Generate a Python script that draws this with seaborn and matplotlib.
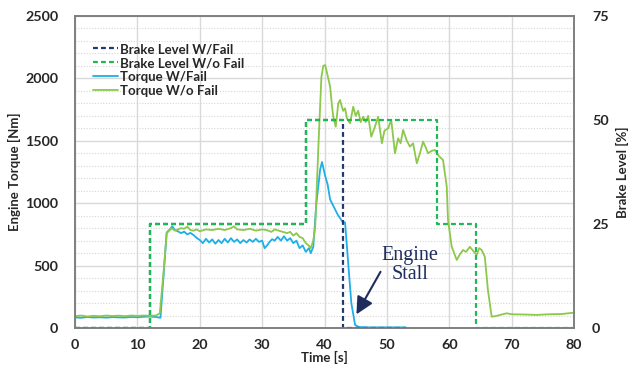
import matplotlib
matplotlib.use("Agg")
import matplotlib.pyplot as plt
import seaborn as sns
import numpy as np
from matplotlib.ticker import MultipleLocator

# ---------------- data ----------------
brake_t = [0, 12, 37, 43, 53]
brake_fail = [0, 25, 50, 0, 0]
brake_t_nofail = [0, 12, 37, 58, 64.3, 80]
brake_nofail = [0, 25, 50, 25, 0, 0]

torque_fail_t = [0, 1, 2, 3, 4, 5, 6, 7, 8, 9, 10, 11, 12, 13, 13.7,
                 14.2, 14.7, 15.2, 15.6, 16, 16.5, 17, 17.5, 18, 18.5, 19, 19.5,
                 20, 20.5, 21, 21.5, 22, 22.5, 23, 23.5, 24, 24.5, 25, 25.5,
                 26, 26.5, 27, 27.5, 28, 28.5, 29, 29.5, 30, 30.4, 30.8, 31.2,
                 31.6, 32, 32.5, 33, 33.5, 34, 34.5, 35, 35.5, 36, 36.5, 37,
                 37.5, 37.8, 38.2, 38.7, 39.3, 39.6, 40.1, 40.5, 40.9, 41.3,
                 41.7, 42.1, 42.5, 42.9, 43.3, 43.8, 44.3, 44.9, 45.5, 47, 50, 53]
torque_fail = [85, 82, 88, 84, 86, 83, 87, 85, 84, 88, 86, 90, 92, 88, 82,
               420, 765, 790, 815, 785, 775, 760, 772, 750, 762, 745, 722,
               705, 680, 715, 685, 710, 675, 705, 680, 715, 685, 720, 690,
               710, 680, 705, 685, 710, 690, 715, 690, 700, 640, 662, 690,
               712, 700, 730, 700, 735, 700, 720, 680, 700, 640, 662, 610,
               640, 600, 650, 1000, 1270, 1330, 1220, 1150, 1030, 990,
               950, 910, 880, 850, 845, 520, 200, 25, 8, 5, 5, 5]

torque_nofail_t = [0, 1, 2, 3, 4, 5, 6, 7, 8, 9, 10, 11, 12, 13, 13.6,
                   14.2, 14.7, 15.5, 16, 16.5, 17, 17.5, 18, 18.5, 19, 19.5,
                   20, 21, 22, 23, 24, 25, 25.5, 26, 27, 28, 29, 30, 30.7,
                   31.5, 32, 33, 34, 34.5, 35, 35.5, 36, 36.5, 37, 37.5, 37.8,
                   38.2, 38.5, 39.0, 39.5, 39.8, 40.1, 40.3, 40.6, 40.9, 41.2,
                   41.4, 41.8, 42.0, 42.2, 42.5, 42.7, 43.0, 43.3, 43.6, 44.1,
                   44.6, 45.0, 45.4, 45.8, 46.2, 46.6, 47.0, 47.5, 48.0, 48.6,
                   49.2, 49.6, 50.2, 50.7, 51.3, 51.8, 52.2, 52.6, 53.2, 53.7,
                   54.2, 54.8, 55.3, 55.8, 56.2, 56.6, 57.2, 57.7, 58.3, 59.0,
                   59.6, 59.8, 60.4, 61.2, 61.7, 62.2, 62.7, 63.3, 63.8, 64.4,
                   64.8, 65.2, 65.7, 66.2, 66.8, 67.4, 68.1, 69.2, 70, 72, 74,
                   76, 78, 79.5, 80]
torque_nofail = [95, 100, 92, 98, 94, 100, 96, 99, 95, 100, 97, 100, 98, 100, 118,
                 450, 760, 800, 780, 790, 800, 795, 812, 785, 780, 790,
                 775, 790, 785, 795, 785, 800, 815, 790, 785, 795, 780, 790, 785,
                 770, 790, 775, 760, 770, 740, 760, 730, 720, 680, 660, 640,
                 700, 800, 1430, 2010, 2100, 2107, 2067, 2000, 1934, 1780,
                 1693, 1613, 1700, 1800, 1827, 1787, 1740, 1760, 1680, 1640,
                 1773, 1700, 1740, 1650, 1693, 1650, 1700, 1533, 1600, 1693,
                 1480, 1580, 1600, 1667, 1400, 1520, 1480, 1587, 1500, 1453,
                 1480, 1320, 1400, 1493, 1450, 1400, 1420, 1426, 1380, 1346,
                 1132, 865, 651, 545, 590, 625, 610, 651, 620, 585,
                 640, 625, 571, 304, 91, 95, 104, 118, 110, 108, 105,
                 110, 112, 120, 123]

x_ticks = [0, 10, 20, 30, 40, 50, 60, 70, 80]
y_ticks = [0, 500, 1000, 1500, 2000, 2500]
y2_ticks = [0, 25, 50, 75]

# ---------------- style ----------------
sns.set_style("white")
plt.rcParams["font.family"] = ["Lato", "DejaVu Sans"]

navy = "#1F3A6E"
green_dash = "#1DB954"
blue = "#1EAEE8"
green = "#8CC84B"
grid_c = "#D9D9D9"
spine_c = "#7F7F7F"

fig = plt.figure(figsize=(6.33, 3.69), dpi=100)
ax = fig.add_axes([75 / 633, 41 / 369, 499 / 633, 312 / 369])
ax2 = ax.twinx()

sns.lineplot(x=torque_fail_t, y=torque_fail, ax=ax, color=blue, lw=1.3,
             label="Torque W/Fail")
sns.lineplot(x=torque_nofail_t, y=torque_nofail, ax=ax, color=green, lw=1.3,
             label="Torque W/o Fail")
sns.lineplot(x=brake_t, y=brake_fail, ax=ax2, color=navy, lw=1.6,
             drawstyle="steps-post", linestyle=(0, (2.2, 1.4)),
             label="Brake Level W/Fail")
sns.lineplot(x=brake_t_nofail, y=brake_nofail, ax=ax2, color=green_dash, lw=1.6,
             drawstyle="steps-post", linestyle=(0, (2.2, 1.4)),
             label="Brake Level W/o Fail")
for a in (ax, ax2):
    if a.get_legend() is not None:
        a.get_legend().remove()

ax.set_xlim(0, 80)
ax.set_ylim(0, 2500)
ax2.set_ylim(0, 75)
ax.set_xticks(x_ticks)
ax.set_yticks(y_ticks)
ax2.set_yticks(y2_ticks)
ax.yaxis.set_minor_locator(MultipleLocator(100))

ax.grid(True, which="major", color=grid_c, lw=1.0)
ax.grid(True, which="minor", axis="y", color="#D6D6D6", lw=0.8, linestyle=(0, (1, 1.5)))
ax.set_axisbelow(True)

for a in (ax, ax2):
    for s in a.spines.values():
        s.set_color(spine_c)
        s.set_linewidth(1.2)
    a.tick_params(which="both", length=0, labelsize=10.3)
    for lab in a.get_xticklabels() + a.get_yticklabels():
        lab.set_fontweight("bold")
ax.tick_params(axis="y", pad=12)
ax.tick_params(axis="x", pad=8)
ax2.tick_params(axis="y", pad=13)

ax.set_xlabel("Time [s]", fontsize=9.5, fontweight="bold", labelpad=0)
ax.set_ylabel("Engine Torque [Nm]", fontsize=9.5, fontweight="bold", labelpad=3)
ax2.set_ylabel("Brake Level [%]", fontsize=9.5, fontweight="bold", labelpad=5)

h1, l1 = ax.get_legend_handles_labels()
h2, l2 = ax2.get_legend_handles_labels()
leg = ax2.legend(h2 + h1, l2 + l1, loc="upper left", bbox_to_anchor=(0.025, 0.93),
                 frameon=False, prop={"size": 9.5, "weight": "bold"},
                 handlelength=1.9, handletextpad=0.15, labelspacing=0.15,
                 borderaxespad=0)

# annotation
ax.text(53.7, 505, "Engine\nStall", ha="center", va="center",
        fontsize=14.5, family=["Liberation Serif", "DejaVu Serif"],
        color="#1F2D5C", linespacing=1.05)
ax.annotate("", xy=(44.9, 90), xytext=(49.2, 470),
            arrowprops=dict(arrowstyle="-|>", color="#1F2D5C", lw=1.5,
                            mutation_scale=26))

fig.savefig("out.png", dpi=100)
